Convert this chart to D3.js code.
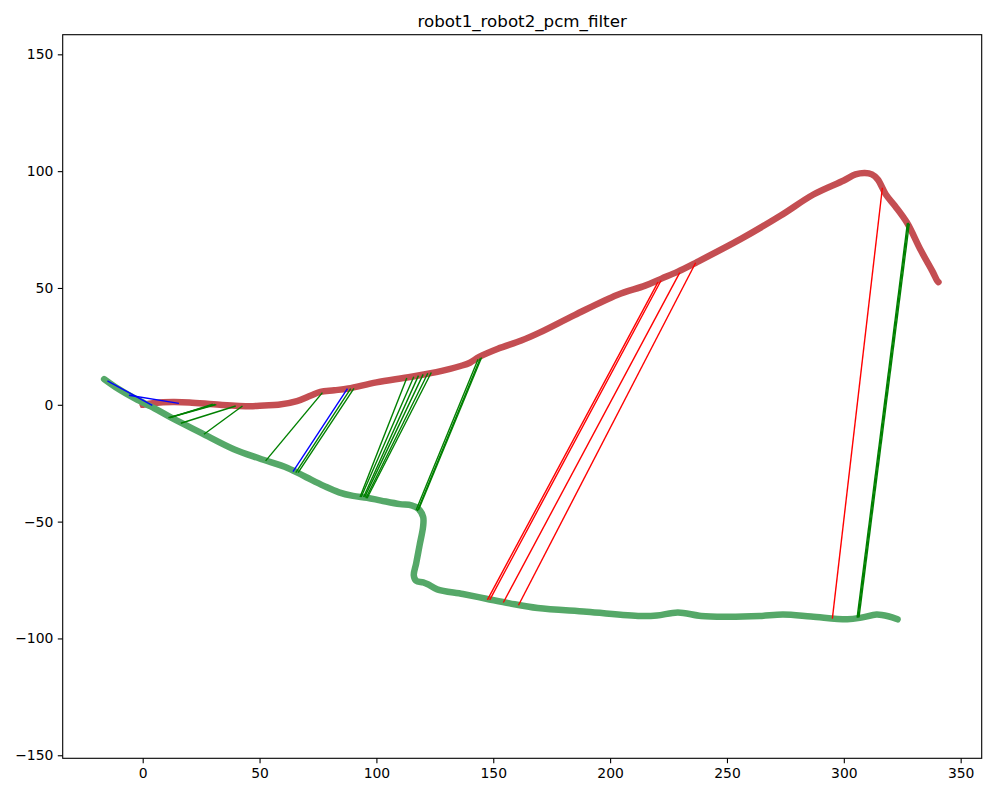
<!DOCTYPE html>
<html>
<head>
<meta charset="utf-8">
<script src="https://cdn.jsdelivr.net/npm/d3@7"></script>
<style>
  body { margin: 0; background: #fff; }
  svg { display: block; font-family: "DejaVu Sans", sans-serif; }
</style>
</head>
<body>
<svg id="chart" width="997" height="797"></svg>
<script>
const chartTitle = "robot1_robot2_pcm_filter";
const xTicks = [0, 50, 100, 150, 200, 250, 300, 350];
const yTicks = [-150, -100, -50, 0, 50, 100, 150];

// robot1 trajectory (red)
const robot1 = [[0,0],[5,0.8],[13,1.2],[20,1],[33,0],[46,-0.6],[52,-0.3],[58,0],[66,1.6],[72,4],[76,5.5],[82,6.2],[88,7],[100,9.6],[115,12],[128,14.5],[136,16.6],[140,18],[144,20.5],[152,24],[162,27.5],[170,31],[185,38.5],[203,47],[215,51],[222,54],[229,57],[237,61],[256,71],[273,81],[287,90],[300,96],[305,98.6],[309,99.2],[312,98.6],[314.5,96.5],[318,90],[322,85],[327,78],[333,66],[338,57],[340,53],[340.5,52.5]];

// robot2 trajectory (green)
const robot2 = [[-16.5,11],[-10,6.5],[-3,2.5],[5,-1.5],[12,-5.4],[25,-12],[39,-19],[50,-23],[62,-27],[70,-31],[77.5,-34.7],[84,-37.5],[90,-39],[96,-39.8],[102,-41],[110,-42.5],[115,-43],[118,-44.5],[120,-48],[120,-52],[118.5,-60],[117,-68],[116,-73],[117,-75.3],[120,-76],[122,-76.8],[126,-79],[137,-81],[147,-83],[157,-85],[169,-87],[190,-88.6],[213,-90.4],[220,-90.2],[229,-88.9],[239,-90.4],[250,-90.7],[264,-90.4],[274,-89.8],[286,-90.6],[301.5,-91.8],[308,-91],[314,-89.8],[319,-90.5],[323,-91.8]];

// accepted matches (green): [robot2 point, robot1 point]
const greenMatches = [
  [[11,-5.5],[31,0.2]],[[11.5,-5.6],[30,0.3]],[[12,-5.4],[31.5,0.1]],
  [[16.3,-7.9],[39.8,-0.5]],
  [[26.2,-12.6],[42.7,-0.5]],
  [[52.6,-24],[76.9,5.2]],
  [[65.5,-29],[89,6.9]],[[66.5,-29],[90.4,7]],
  [[93,-39.5],[113,11.5]],[[93.5,-39.5],[116,12]],[[94.5,-39.5],[118,12.5]],
  [[95,-39.5],[120,13]],[[95.5,-40],[122,13.5]],[[96,-40],[123.5,13.8]],
  [[117,-45],[143.5,19.5]],[[117.5,-45.5],[144.5,20]],[[118,-45],[145,20.2]],
  [[305.7,-91.1],[327.2,77.7]],[[306.1,-91.1],[327.6,77.9]],[[306.5,-91],[328,77.5]]
];
// blue matches
const blueMatches = [
  [[-15.1,10.2],[4.1,-0.2]],
  [[-5.9,4.1],[15.5,0.6]],
  [[64.3,-28.6],[87.6,6.9]]
];
// rejected matches (red)
const redMatches = [
  [[147.5,-83.5],[220.5,52.5]],[[148.5,-83.5],[221.8,53.2]],
  [[154.3,-84.6],[229.8,56.6]],
  [[160.8,-85.8],[236.6,60.8]],
  [[295.1,-91.5],[316.5,92.9]]
];

const W = 997, H = 797;
const m = {left: 62.7, right: 981.7, top: 34.7, bottom: 758.3};
const x = d3.scaleLinear().domain([-34.23, 359.0]).range([m.left, m.right]);
const y = d3.scaleLinear().domain([158.4, -151.3]).range([m.top, m.bottom]);

const svg = d3.select("#chart");
svg.append("rect").attr("width", W).attr("height", H).attr("fill", "#fff");

svg.append("defs").append("clipPath").attr("id", "clip")
  .append("rect").attr("x", m.left).attr("y", m.top)
  .attr("width", m.right - m.left).attr("height", m.bottom - m.top);

const plot = svg.append("g").attr("clip-path", "url(#clip)");
const line = d3.line().x(d => x(d[0])).y(d => y(d[1])).curve(d3.curveCatmullRom.alpha(0.5));

plot.append("path").datum(robot1).attr("d", line)
  .attr("fill", "none").attr("stroke", "#c44e52").attr("stroke-width", 6.5)
  .attr("stroke-linecap", "round").attr("stroke-linejoin", "round");
plot.append("path").datum(robot2).attr("d", line)
  .attr("fill", "none").attr("stroke", "#55a868").attr("stroke-width", 6.5)
  .attr("stroke-linecap", "round").attr("stroke-linejoin", "round");

function drawMatches(data, color) {
  plot.selectAll(null).data(data).enter().append("line")
    .attr("x1", d => x(d[0][0])).attr("y1", d => y(d[0][1]))
    .attr("x2", d => x(d[1][0])).attr("y2", d => y(d[1][1]))
    .attr("stroke", color).attr("stroke-width", 1.4);
}
drawMatches(greenMatches, "#008000");
drawMatches(blueMatches, "#0000ff");
drawMatches(redMatches, "#ff0000");

// axes
const xAxis = d3.axisBottom(x).tickValues(xTicks).tickSize(4.9).tickPadding(4.5).tickFormat(d3.format("d"));
const yAxis = d3.axisLeft(y).tickValues(yTicks).tickSize(4.9).tickPadding(4.5)
  .tickFormat(d => d < 0 ? "\u2212" + Math.abs(d) : String(d));

const gx = svg.append("g").attr("transform", `translate(0,${m.bottom})`).call(xAxis);
const gy = svg.append("g").attr("transform", `translate(${m.left},0)`).call(yAxis);
[gx, gy].forEach(g => {
  g.select(".domain").remove();
  g.selectAll(".tick line").attr("stroke", "#000").attr("stroke-width", 1.1);
  g.selectAll(".tick text").attr("fill", "#000").style("font-size", "13.9px")
    .style("font-family", "'DejaVu Sans', sans-serif");
});

svg.append("rect").attr("x", m.left).attr("y", m.top)
  .attr("width", m.right - m.left).attr("height", m.bottom - m.top)
  .attr("fill", "none").attr("stroke", "#000").attr("stroke-width", 1.1);

svg.append("text").attr("x", (m.left + m.right) / 2).attr("y", 26.5)
  .attr("text-anchor", "middle").style("font-size", "16.7px")
  .style("font-family", "'DejaVu Sans', sans-serif").attr("fill", "#000")
  .text(chartTitle);
</script>
</body>
</html>
